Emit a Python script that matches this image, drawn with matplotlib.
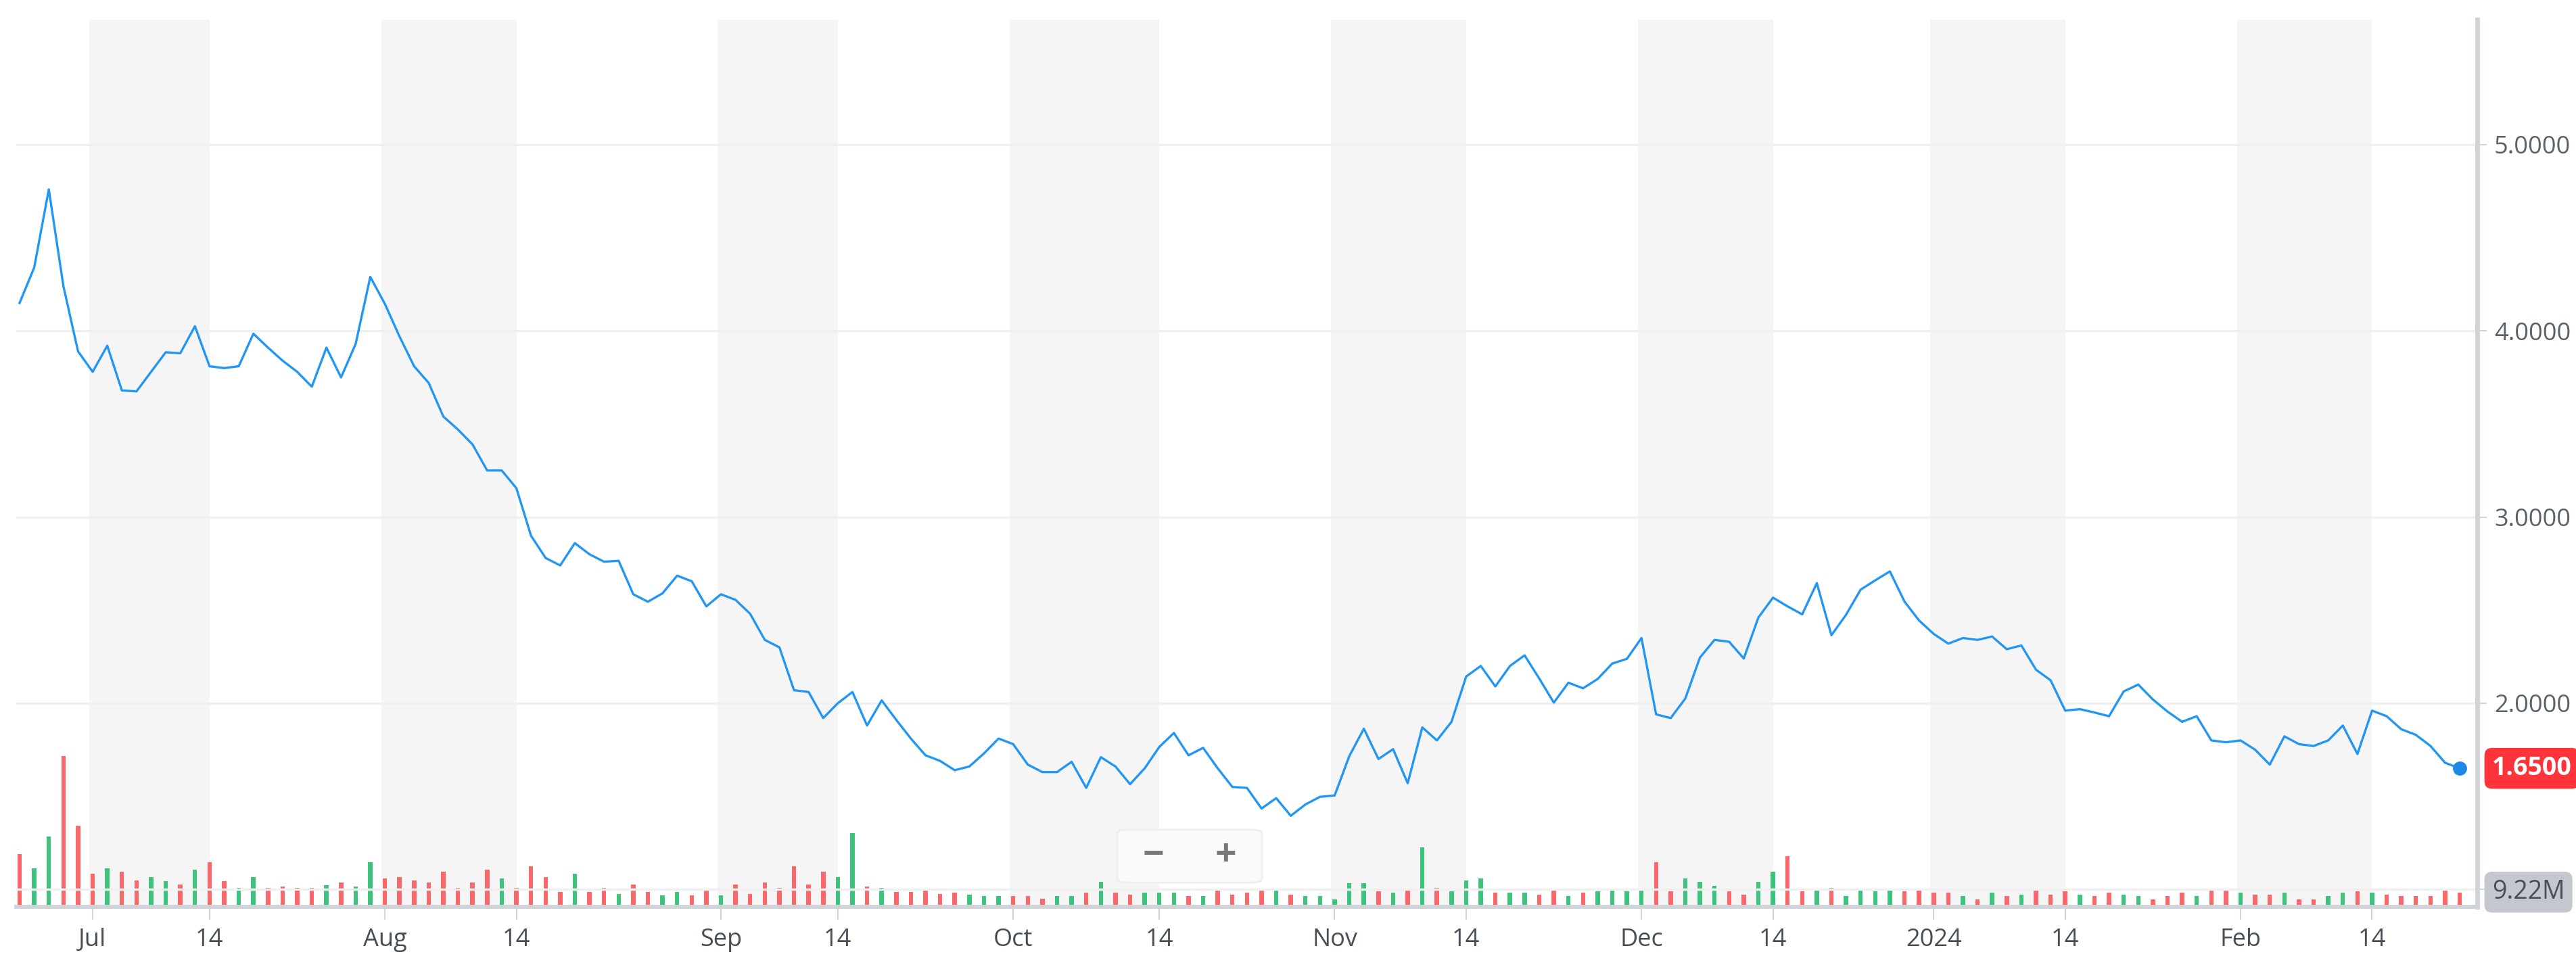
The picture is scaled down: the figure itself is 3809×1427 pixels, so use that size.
import numpy as np
import pandas as pd
import matplotlib
matplotlib.use("Agg")
import matplotlib.pyplot as plt
from matplotlib.patches import FancyBboxPatch

plt.rcParams['font.family'] = ['Open Sans', 'DejaVu Sans']

# trading days Jun 26 2023 .. Feb 23 2024 (US market holidays removed)
holidays = ["2023-07-04", "2023-09-04", "2023-11-23", "2023-12-25",
            "2024-01-01", "2024-01-15", "2024-02-19"]
dates = pd.bdate_range("2023-06-26", "2024-02-23")
dates = dates[~dates.isin(pd.to_datetime(holidays))]

close = [4.15, 4.34, 4.76, 4.24, 3.89, 3.78, 3.92, 3.68, 3.675, 3.78,
         3.885, 3.88, 4.025, 3.81, 3.80, 3.81, 3.985, 3.91, 3.84, 3.78,
         3.70, 3.91, 3.75, 3.93, 4.29, 4.145, 3.97, 3.81, 3.72, 3.54,
         3.47, 3.39, 3.25, 3.25, 3.155, 2.90, 2.78, 2.74, 2.86, 2.80,
         2.76, 2.765, 2.585, 2.545, 2.59, 2.685, 2.655, 2.52, 2.585, 2.555,
         2.48, 2.34, 2.30, 2.07, 2.06, 1.92, 2.00, 2.06, 1.88, 2.015,
         1.91, 1.81, 1.72, 1.69, 1.64, 1.66, 1.73, 1.81, 1.78, 1.67,
         1.63, 1.63, 1.685, 1.545, 1.71, 1.66, 1.565, 1.65, 1.765, 1.84,
         1.72, 1.76, 1.65, 1.55, 1.545, 1.434, 1.49, 1.395, 1.456, 1.497,
         1.504, 1.715, 1.863, 1.70, 1.753, 1.57, 1.87, 1.80, 1.90, 2.143,
         2.20, 2.09, 2.20, 2.257, 2.133, 2.003, 2.11, 2.08, 2.13, 2.213,
         2.238, 2.35, 1.94, 1.92, 2.025, 2.245, 2.34, 2.33, 2.24, 2.46,
         2.567, 2.52, 2.477, 2.645, 2.365, 2.475, 2.61, 2.66, 2.708, 2.546,
         2.444, 2.372, 2.32, 2.35, 2.34, 2.358, 2.29, 2.31, 2.18, 2.123,
         1.96, 1.968, 1.95, 1.93, 2.063, 2.10, 2.02, 1.955, 1.90, 1.93,
         1.80, 1.79, 1.80, 1.75, 1.67, 1.822, 1.78, 1.77, 1.80, 1.88,
         1.727, 1.96, 1.93, 1.86, 1.83, 1.77, 1.68, 1.65]

# volume in millions
volume = [35.0, 25.6, 46.4, 99.3, 53.5, 22.0, 25.6, 23.0, 17.4, 19.6,
          17.1, 14.6, 24.5, 29.3, 17.1, 12.3, 19.6, 12.3, 13.4, 12.3,
          12.3, 14.4, 16.1, 13.4, 29.3, 18.6, 19.6, 17.4, 16.1, 23.0,
          12.3, 16.1, 24.5, 18.6, 12.3, 26.8, 19.6, 10.0, 22.0, 10.0,
          12.3, 8.6, 14.6, 10.0, 7.4, 10.0, 7.4, 10.9, 7.4, 14.6,
          8.6, 16.1, 12.3, 26.8, 14.6, 23.0, 19.6, 48.8, 13.4, 12.3,
          10.0, 10.0, 10.9, 8.6,
          9.2, 8.0, 7.0, 7.0, 7.0, 7.0, 5.5, 7.0, 7.0, 9.2,
          16.4, 9.2, 8.0, 9.2, 9.2, 9.2, 7.0, 7.0, 11.4, 8.0,
          9.2, 10.7, 10.7, 8.0, 7.0, 7.0, 4.8, 15.5, 15.5, 10.3,
          9.2, 11.4, 39.3, 12.6, 10.3, 17.4, 18.9, 9.2, 9.2, 9.2,
          8.0, 11.4, 7.0, 9.2, 10.3, 11.4, 10.3, 11.4, 29.6, 10.3,
          18.9, 16.4, 14.0, 10.3, 8.0,
          16.4, 23.3, 33.5, 10.3, 11.4, 12.6, 7.0, 11.4, 10.3, 11.4,
          10.3, 11.4, 9.2, 9.2, 7.0, 4.8, 9.2, 7.0, 8.0, 10.7,
          8.0, 10.3, 8.0, 7.0, 9.2, 8.0, 7.0, 4.8, 7.0, 9.2,
          7.0, 10.7, 11.4, 9.2, 8.0, 8.0, 9.2, 4.8, 4.8, 7.0,
          9.2, 10.3, 9.2, 8.0, 7.0, 7.0, 7.0, 11.4, 9.22]

vol_dir = ("rggrrrgrrg" "grgrrggrrr" "rgrggrrrrr" "rrrgrrrrgr" "rgrrggrrgr"
           "rrrrrrggrg" "rrrr"
           "rgggrrrggr" "grrgggrgrr" "rrgrgggggr" "grgrgggrgg" "rrgrggggrr"
           "gggrr"
           "ggrrgrgggg" "rrrrgrgrgr" "rrgrrggrrr" "grrgrrgrrg" "grgrrrrrr")

last_volume_label = "9.22M"
last_price_label = "1.6500"
price_ticks = [1, 2, 3, 4, 5]

x = np.arange(len(close))
GRAY_TXT = "#464e56"

fig = plt.figure(figsize=(38.09, 14.27), dpi=100)
ax = fig.add_axes([24 / 3809, 86 / 1427, 3639 / 3809, 1312 / 1427])
axv = ax.twinx()
ax.set_zorder(axv.get_zorder() + 1)
ax.patch.set_visible(False)

# month shading: first trading day of month up to first trading day >= 14th
month_pos, month_lab, mid_pos = [], [], []
for m in pd.period_range("2023-07", "2024-02", freq="M"):
    start = np.searchsorted(dates, m.start_time)
    mid = np.searchsorted(dates, m.start_time + pd.Timedelta(days=13))
    month_pos.append(start)
    mid_pos.append(mid)
    month_lab.append("2024" if m.month == 1 else m.start_time.strftime("%b"))
    axv.axvspan(start - 0.25, mid, color="#f5f5f5", lw=0, zorder=0)

colors = ["#3cc47d" if c == "g" else "#fc676b" for c in vol_dir]
axv.bar(x, volume, width=0.3, color=colors, zorder=2)
axv.set_ylim(0, 585)
axv.set_yticks([])

for t in price_ticks:
    ax.axhline(t, color="#f0f0f0", lw=2.5, zorder=1)
ax.plot(x, close, color="#2196f3", lw=2.4, zorder=3)
ax.plot(x[-1], close[-1], "o", color="#1e88e5", ms=14, zorder=4)
ax.set_ylim(0.906, 5.672)
ax.set_xlim(-0.23, 168.2)

ax.yaxis.tick_right()
axv.yaxis.set_visible(False)
ax.set_yticks(price_ticks)
# the 1.0000 label sits under the volume tag
ax.set_yticklabels(["" if t == 1 else f"{t:.4f}" for t in price_ticks])
ax.tick_params(axis="y", length=10, width=1.5, color="#d0d4d8", pad=8,
               labelsize=26, labelcolor="#5b636a")
ticks = sorted(month_pos + mid_pos)
labels = [month_lab[month_pos.index(t)] if t in month_pos else "14" for t in ticks]
ax.set_xticks(ticks)
ax.set_xticklabels(labels)
ax.tick_params(axis="x", length=14, width=1.5, color="#d0d4d8", pad=8,
               labelsize=26, labelcolor=GRAY_TXT)
for a in (ax, axv):
    for s in ("top", "left"):
        a.spines[s].set_visible(False)
    a.spines["right"].set_color("#d0d4d8")
    a.spines["right"].set_linewidth(5)
    a.spines["bottom"].set_color("#d0d4d8")
    a.spines["bottom"].set_linewidth(4)

# last price and last volume tags
ax.text(1.006, close[-1], last_price_label, transform=ax.get_yaxis_transform(),
        ha="left", va="center", fontsize=27, color="white", fontweight="bold",
        zorder=6, bbox=dict(boxstyle="round,pad=0.3,rounding_size=0.3",
                            fc="#ff333a", ec="none"), clip_on=False)
ax.text(1.006, 0.985, last_volume_label, transform=ax.get_yaxis_transform(),
        ha="left", va="center", fontsize=27, color="#4a4f55",
        zorder=6, bbox=dict(boxstyle="round,pad=0.3,rounding_size=0.3",
                            fc="#c4c8ce", ec="none"), clip_on=False)

# zoom control
fx, fy, fw, fh = 1652 / 3809, 1 - 1305 / 1427, 214 / 3809, 78 / 1427
fig.patches.append(FancyBboxPatch((fx, fy), fw, fh, transform=fig.transFigure,
                                  boxstyle="round,pad=0,rounding_size=0.004",
                                  fc="#fafafa", ec="#eeeeee", lw=2, zorder=10))
fig.lines.append(plt.Line2D([fx + fw / 2] * 2, [fy + fh * 0.15, fy + fh * 0.85],
                            transform=fig.transFigure, color="#dddddd", lw=2))
fig.text(fx + fw * 0.25, fy + fh / 2, "−", ha="center", va="center",
         fontsize=40, fontweight="bold", color="#777777", zorder=11)
fig.text(fx + fw * 0.75, fy + fh / 2, "+", ha="center", va="center",
         fontsize=40, fontweight="bold", color="#777777", zorder=11)

fig.savefig("out.png", dpi=100, facecolor="white")
